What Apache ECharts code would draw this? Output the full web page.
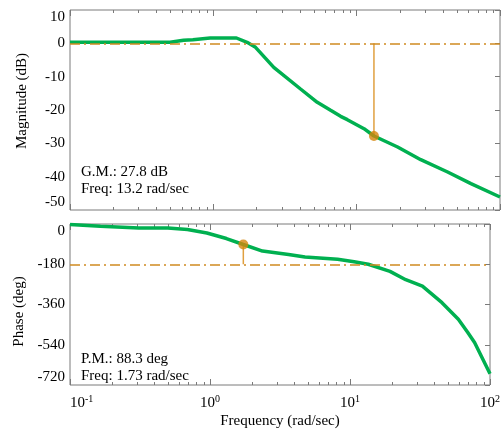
<!DOCTYPE html>
<html>
<head>
<meta charset="utf-8">
<script src="https://cdn.jsdelivr.net/npm/echarts@6/dist/echarts.min.js"></script>
<style>
  html, body { margin: 0; padding: 0; background: #fff; }
  #chart { width: 503px; height: 430px; }
</style>
</head>
<body>
<div id="chart"></div>
<script>
// Open-loop frequency response (Bode plot)
const magFreq = [0.1, 0.5, 0.62, 0.72, 0.95, 1.45, 1.72, 1.97, 2.64, 4.06, 5.31, 6.58, 7.73, 8.61, 11.25, 13.2, 19.3, 28.0, 43.1, 62.7, 100];
const magDb   = [0.3, 0.3, 0.9, 1.1, 1.6, 1.6, 0.3, -1.2, -7.2, -13.7, -17.7, -20.1, -21.9, -22.9, -25.6, -27.8, -31.1, -34.9, -38.6, -42.1, -46.1];

const phaseFreq = [0.1, 0.165, 0.31, 0.5, 0.69, 0.95, 1.31, 1.73, 2.37, 3.64, 4.77, 8.15, 10.7, 13.5, 19.3, 25.0, 32.9, 45.4, 59.4, 69.2, 77.6, 100];
const phaseDeg  = [-2, -10, -18, -18, -25, -40, -65, -91.7, -121, -136, -148, -158, -169, -180, -212, -249, -278, -352, -426, -484, -530, -670];

// Stability margins
const gainMarginDb = 27.8;
const gainCrossFreq = 13.2;
const phaseMarginDeg = 88.3;
const phaseCrossFreq = 1.73;
const gainRefDb = 0;
const phaseRefDeg = -180;

// Axis ticks
const freqTicks = [0.1, 1, 10, 100];
const magTicks = [10, 0, -10, -20, -30, -40, -50];
const phaseTicks = [0, -180, -360, -540, -720];
const minorTickFreqs = [0.2, 0.3, 0.4, 0.5, 0.6, 0.7, 0.8, 0.9,
                        2, 3, 4, 5, 6, 7, 8, 9,
                        20, 30, 40, 50, 60, 70, 80, 90];

const FONT = 'Liberation Serif';
const FRAME = '#7a7a7a';
const GREEN = '#00b050';
const ORANGE = '#d4860b';
const STEM = '#e0a040';
const REF = '#d08a20';

const magMin = Math.min(...magTicks), magMax = Math.max(...magTicks);
const phMin = Math.min(...phaseTicks), phMax = Math.max(...phaseTicks);
const fMin = Math.min(...freqTicks), fMax = Math.max(...freqTicks);

const zip = (xs, ys) => xs.map((x, i) => [x, ys[i]]);

function freqAxis(gridIndex, position, withLabels) {
  return {
    type: 'log', logBase: 10, gridIndex, position,
    min: fMin, max: fMax,
    axisLine: { show: false, onZero: false },
    axisTick: { show: true, inside: true, length: 6, lineStyle: { color: FRAME } },
    splitLine: { show: false },
    axisLabel: withLabels ? {
      show: true, margin: 9, color: '#000', alignMinLabel: 'left',
      formatter: v => '{b|10}{e|' + Math.round(Math.log10(v)) + '}',
      rich: {
        b: { fontFamily: FONT, fontSize: 15, color: '#000', lineHeight: 18 },
        e: { fontFamily: FONT, fontSize: 10, color: '#000', verticalAlign: 'top', lineHeight: 10 }
      }
    } : { show: false },
    name: withLabels ? 'Frequency (rad/sec)' : '',
    nameLocation: 'middle', nameGap: 29,
    nameTextStyle: { fontFamily: FONT, fontSize: 15, color: '#000' }
  };
}

function valueAxis(gridIndex, ticks, step, name, namePad) {
  return {
    type: 'value', gridIndex, position: 'left',
    min: Math.min(...ticks), max: Math.max(...ticks), interval: step,
    axisLine: { show: false, onZero: false },
    axisTick: { show: false },
    splitLine: { show: false },
    axisLabel: {
      fontFamily: FONT, fontSize: 15, color: '#000', margin: 5,
      verticalAlignMinLabel: 'bottom', verticalAlignMaxLabel: 'top'
    },
    name, nameLocation: 'middle', nameGap: 40,
    nameTextStyle: { fontFamily: FONT, fontSize: 15, color: '#000', padding: namePad }
  };
}

function rightTicks(gridIndex, ticks, step) {
  return {
    type: 'value', gridIndex, position: 'right',
    min: Math.min(...ticks), max: Math.max(...ticks), interval: step,
    axisLine: { show: false, onZero: false },
    axisTick: { show: true, inside: true, length: 5, lineStyle: { color: FRAME } },
    axisLabel: { show: false },
    splitLine: { show: false }
  };
}

// Short log-decade minor ticks along the top and bottom frame of a panel
function minorTicks(xIdx, yIdx, yLo, yHi) {
  return {
    type: 'custom', xAxisIndex: xIdx, yAxisIndex: yIdx, silent: true, clip: false, z: 1,
    data: minorTickFreqs.map(f => [f, yLo]),
    renderItem: (params, api) => {
      const f = api.value(0);
      const b = api.coord([f, yLo]);
      const t = api.coord([f, yHi]);
      const x = Math.round(b[0]) + 0.5;
      const st = { stroke: FRAME, lineWidth: 1 };
      return {
        type: 'group',
        children: [
          { type: 'line', shape: { x1: x, y1: b[1], x2: x, y2: b[1] - 3 }, style: st },
          { type: 'line', shape: { x1: x, y1: t[1], x2: x, y2: t[1] + 3 }, style: st }
        ]
      };
    }
  };
}

const refLine = (value) => ({
  silent: true, symbol: 'none', label: { show: false },
  lineStyle: { color: REF, width: 1.5, type: [10, 4, 2, 4] },
  data: [{ yAxis: value }]
});

const chart = echarts.init(document.getElementById('chart'), null, { renderer: 'canvas' });

chart.setOption({
  animation: false,
  backgroundColor: '#fff',
  grid: [
    { left: 70, top: 10, width: 430, height: 200, show: true, borderColor: FRAME, borderWidth: 1, containLabel: false },
    { left: 70, top: 224, width: 430, height: 162, show: true, borderColor: FRAME, borderWidth: 1, containLabel: false }
  ],
  xAxis: [
    freqAxis(0, 'bottom', false),
    freqAxis(0, 'top', false),
    freqAxis(1, 'bottom', true),
    freqAxis(1, 'top', false)
  ],
  yAxis: [
    valueAxis(0, magTicks, 10, 'Magnitude (dB)', [0, 0, 0, 18]),
    rightTicks(0, magTicks, 10),
    valueAxis(1, phaseTicks, 180, 'Phase (deg)', [0, 14, 0, 0]),
    rightTicks(1, phaseTicks, 180)
  ],
  graphic: [
    {
      type: 'text', left: 81, top: 164, silent: true,
      style: { text: 'G.M.: ' + gainMarginDb + ' dB\nFreq: ' + gainCrossFreq + ' rad/sec',
               font: '15px "' + FONT + '"', fill: '#000', lineHeight: 17 }
    },
    {
      type: 'text', left: 81, top: 351, silent: true,
      style: { text: 'P.M.: ' + phaseMarginDeg + ' deg\nFreq: ' + phaseCrossFreq + ' rad/sec',
               font: '15px "' + FONT + '"', fill: '#000', lineHeight: 17 }
    }
  ],
  series: [
    minorTicks(0, 0, magMin, magMax),
    minorTicks(2, 2, phMin, phMax),
    // gain-margin stem
    {
      type: 'line', xAxisIndex: 0, yAxisIndex: 0, z: 2, symbol: 'none', silent: true,
      lineStyle: { color: STEM, width: 1.5 },
      data: [[gainCrossFreq, gainRefDb], [gainCrossFreq, -gainMarginDb]],
      markLine: refLine(gainRefDb)
    },
    {
      type: 'line', xAxisIndex: 0, yAxisIndex: 0, z: 3, symbol: 'none', silent: true,
      lineStyle: { color: GREEN, width: 3.5 },
      data: zip(magFreq, magDb)
    },
    {
      type: 'scatter', xAxisIndex: 0, yAxisIndex: 0, z: 4, silent: true,
      symbolSize: 10, itemStyle: { color: ORANGE },
      data: [[gainCrossFreq, -gainMarginDb]]
    },
    // phase-margin stem
    {
      type: 'line', xAxisIndex: 2, yAxisIndex: 2, z: 2, symbol: 'none', silent: true,
      lineStyle: { color: STEM, width: 1.5 },
      data: [[phaseCrossFreq, phaseRefDeg], [phaseCrossFreq, phaseRefDeg + phaseMarginDeg]],
      markLine: refLine(phaseRefDeg)
    },
    {
      type: 'line', xAxisIndex: 2, yAxisIndex: 2, z: 3, symbol: 'none', silent: true,
      lineStyle: { color: GREEN, width: 3.5 },
      data: zip(phaseFreq, phaseDeg)
    },
    {
      type: 'scatter', xAxisIndex: 2, yAxisIndex: 2, z: 4, silent: true,
      symbolSize: 10, itemStyle: { color: ORANGE },
      data: [[phaseCrossFreq, phaseRefDeg + phaseMarginDeg]]
    }
  ]
});
</script>
</body>
</html>
